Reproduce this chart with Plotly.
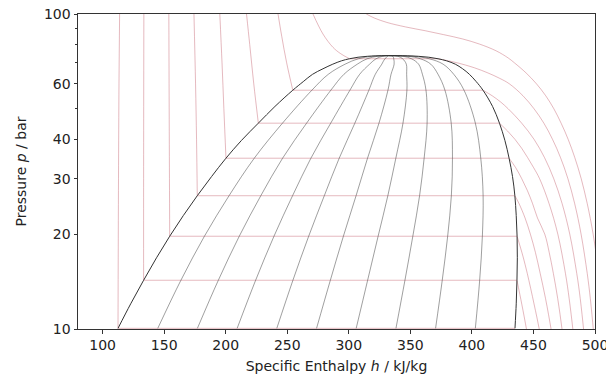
import plotly.graph_objects as go

# ---------------- data ----------------
# saturation dome: pressure [bar], sat. liquid / sat. vapour enthalpy [kJ/kg]
sat_p = [10.05, 12.02, 14.28, 16.83, 19.70, 22.90, 26.49, 30.47, 34.85, 39.69, 45.02, 50.87,
         57.29, 61.0, 64.34, 67.0, 69.3, 71.0, 72.1, 72.9, 73.4, 73.65, 73.77]
sat_hl = [112.5, 122.8, 133.3, 143.8, 154.5, 165.5, 176.9, 188.5, 200.2, 212.8, 226.5, 240.0,
          254.5, 263.0, 270.5, 279.0, 287.0, 294.0, 300.5, 307.5, 315.0, 322.0, 332.0]
sat_hv = [435.0, 436.0, 436.6, 436.9, 436.7, 436.0, 434.9, 433.0, 430.2, 426.8, 422.4, 416.8,
          409.0, 403.5, 398.0, 392.5, 386.5, 379.5, 372.5, 365.0, 356.5, 347.5, 332.0]

# quality lines x = 0.1 ... 0.9
q_p = [10.05, 14.28, 19.70, 26.49, 34.85, 45.02, 57.29, 64.34, 69.3, 72.1, 73.4, 73.77]
q10_h = [144.8, 163.6, 182.7, 202.7, 223.2, 246.1, 270.0, 283.3, 297.0, 307.7, 319.2, 332.0]
q20_h = [177.0, 194.0, 211.0, 228.5, 246.2, 265.7, 285.4, 296.0, 306.9, 314.9, 323.3, 332.0]
q30_h = [209.3, 224.3, 239.2, 254.3, 269.2, 285.3, 300.9, 308.8, 316.9, 322.1, 327.5, 332.0]
q40_h = [241.5, 254.6, 267.4, 280.1, 292.2, 304.9, 316.3, 321.5, 326.8, 329.3, 331.6, 332.0]
q50_h = [273.8, 285.0, 295.6, 305.9, 315.2, 324.5, 331.8, 334.3, 336.8, 336.5, 335.8, 332.0]
q60_h = [306.0, 315.3, 323.8, 331.7, 338.2, 344.0, 347.2, 347.0, 346.7, 343.7, 339.9, 332.0]
q70_h = [338.3, 345.6, 352.0, 357.5, 361.2, 363.6, 362.7, 359.8, 356.7, 350.9, 344.1, 332.0]
q80_h = [370.5, 375.9, 380.3, 383.3, 384.2, 383.2, 378.1, 372.5, 366.6, 358.1, 348.2, 332.0]
q90_h = [402.8, 406.3, 408.5, 409.1, 407.2, 402.8, 393.6, 385.3, 376.6, 365.3, 352.4, 332.0]

# isotherms (every 10 degC): liquid branch and vapour branch (p [bar], h [kJ/kg])
t_m40_liq_p = [100, 60, 30, 10.05]
t_m40_liq_h = [113.8, 113.3, 112.9, 112.5]
t_m40_vap_p = [10.05]
t_m40_vap_h = [435.0]

t_m30_liq_p = [100, 60, 30, 14.28]
t_m30_liq_h = [133.5, 133.4, 133.3, 133.3]
t_m30_vap_p = [14.28, 12.0, 10.0, 9.0]
t_m30_vap_h = [436.6, 440.5, 444.3, 446.2]

t_m20_liq_p = [100, 60, 30, 19.70]
t_m20_liq_h = [153.8, 154.0, 154.3, 154.5]
t_m20_vap_p = [19.70, 17.0, 15.0, 12.0, 10.0, 9.0]
t_m20_vap_h = [436.7, 441.5, 445.0, 450.5, 454.7, 456.8]

t_m10_liq_p = [100, 60, 40, 26.49]
t_m10_liq_h = [174.2, 175.5, 176.3, 176.9]
t_m10_vap_p = [26.49, 25.0, 22.5, 20.0, 17.5, 15.0, 12.5, 10.0, 9.0]
t_m10_vap_h = [434.9, 438.3, 443.2, 447.5, 451.6, 455.5, 459.8, 464.3, 466.2]

t_0_liq_p = [100, 70, 50, 34.85]
t_0_liq_h = [195.2, 197.0, 198.5, 200.2]
t_0_vap_p = [34.85, 32.5, 30.0, 27.5, 25.0, 22.5, 20.0, 17.5, 15.0, 12.5, 10.0, 9.0]
t_0_vap_h = [430.2, 435.6, 440.5, 445.1, 449.3, 453.3, 459.2, 462.8, 466.2, 469.7, 473.2, 474.6]

t_10_liq_p = [100, 80, 60, 45.02]
t_10_liq_h = [216.9, 219.5, 222.8, 226.5]
t_10_vap_p = [45.02, 42.5, 40.0, 37.5, 35.0, 32.5, 30.0, 25.0, 20.0, 15.0, 12.5, 10.0, 9.0]
t_10_vap_h = [422.4, 429.0, 435.0, 440.4, 445.3, 450.2, 455.0, 462.7, 469.8, 476.0, 479.0, 482.0, 483.2]

t_20_liq_p = [100, 85, 70, 57.29]
t_20_liq_h = [242.5, 245.5, 249.5, 254.5]
t_20_vap_p = [57.29, 55.0, 52.5, 50.0, 45.0, 40.0, 35.0, 30.0, 25.0, 20.0, 15.0, 12.5, 10.0, 9.0]
t_20_vap_h = [409.0, 416.5, 423.5, 429.5, 440.5, 450.5, 459.0, 466.5, 473.3, 479.5, 485.2, 488.0, 490.7, 491.8]

t_30_liq_p = [100, 86.4, 78.4, 75.0, 72.1]
t_30_liq_h = [270.9, 279.0, 287.1, 293.0, 300.5]
t_30_vap_p = [72.1, 71.0, 70.0, 67.5, 65.0, 62.5, 60.0, 55.0, 50.0, 45.0, 40.0, 35.0, 30.0,
              25.0, 20.0, 15.0, 12.5, 10.0, 9.0]
t_30_vap_h = [372.5, 381.0, 388.0, 402.0, 413.0, 422.5, 430.5, 441.5, 450.5, 458.5, 465.5, 472.0,
              478.0, 483.5, 488.7, 493.7, 496.2, 498.6, 499.6]

t_40_p = [100, 97, 94, 91, 88.5, 86, 83.3, 80.3, 76.4, 72.5, 70, 65, 60, 55, 50, 45, 40, 35,
          30, 25, 20, 15, 12]
t_40_h = [314.2, 321.0, 331.0, 346.0, 362.0, 377.0, 392.6, 406.0, 419.7, 429.5, 434.5, 444.0,
          452.5, 460.0, 466.6, 472.5, 478.2, 483.6, 488.8, 493.7, 498.5, 503.0, 505.8]

x_ticks = [100, 150, 200, 250, 300, 350, 400, 450, 500]
y_ticks = [10, 20, 30, 40, 60, 100]
y_minor = [50, 70, 80, 90]

# ---------------- styles ----------------
ISO = dict(color="rgba(190,80,95,0.5)", width=0.8)
QUAL = dict(color="rgba(40,40,40,0.75)", width=0.6)
DOME = dict(color="#333333", width=1.0)
FONT = "DejaVu Sans"

fig = go.Figure()

def add(h, p, line, shape="spline"):
    fig.add_trace(go.Scatter(x=h, y=p, mode="lines", line=dict(shape=shape, **line),
                             hoverinfo="skip", showlegend=False))

isotherms = [
    (t_m40_liq_h, t_m40_liq_p, t_m40_vap_h, t_m40_vap_p),
    (t_m30_liq_h, t_m30_liq_p, t_m30_vap_h, t_m30_vap_p),
    (t_m20_liq_h, t_m20_liq_p, t_m20_vap_h, t_m20_vap_p),
    (t_m10_liq_h, t_m10_liq_p, t_m10_vap_h, t_m10_vap_p),
    (t_0_liq_h, t_0_liq_p, t_0_vap_h, t_0_vap_p),
    (t_10_liq_h, t_10_liq_p, t_10_vap_h, t_10_vap_p),
    (t_20_liq_h, t_20_liq_p, t_20_vap_h, t_20_vap_p),
    (t_30_liq_h, t_30_liq_p, t_30_vap_h, t_30_vap_p),
]
for lh, lp, vh, vp in isotherms:
    add(lh, lp, ISO)
    add([lh[-1], vh[0]], [lp[-1], vp[0]], ISO, "linear")
    if len(vh) > 1:
        add(vh, vp, ISO)
add(t_40_h, t_40_p, ISO)

for qh in [q10_h, q20_h, q30_h, q40_h, q50_h, q60_h, q70_h, q80_h, q90_h]:
    add(qh, q_p, QUAL)

dome_h = sat_hl + sat_hv[-2::-1]
dome_p = sat_p + sat_p[-2::-1]
add(dome_h, dome_p, DOME)

axis_common = dict(showline=True, linecolor="#333", linewidth=1, mirror=True,
                   ticks="outside", ticklen=3.5, tickwidth=0.8, tickcolor="#333",
                   showgrid=False, zeroline=False, automargin=False,
                   ticklabeloverflow="allow",
                   tickfont=dict(family=FONT, size=14, color="#222"))

fig.update_layout(
    width=606, height=376,
    margin=dict(l=78, r=11, t=14, b=47, autoexpand=False),
    paper_bgcolor="white", plot_bgcolor="white",
    font=dict(family=FONT, size=14, color="#222"),
    xaxis=dict(range=[80, 500], tickvals=x_ticks, ticktext=[str(v) for v in x_ticks],
               title=dict(text="Specific Enthalpy <i>h</i> / kJ/kg", standoff=8,
                          font=dict(family=FONT, size=14)),
               **axis_common),
    yaxis=dict(type="log", range=[1, 2], tickvals=y_ticks, ticktext=[str(v) for v in y_ticks],
               minor=dict(tickvals=y_minor, ticks="outside", ticklen=2.5, tickcolor="#333"),
               title=dict(text="Pressure <i>p</i> / bar", standoff=14,
                          font=dict(family=FONT, size=14)),
               **axis_common),
)

fig.write_html("out.html", config={"displayModeBar": False},
               post_script="document.body.style.margin='0';document.body.style.padding='0';")
